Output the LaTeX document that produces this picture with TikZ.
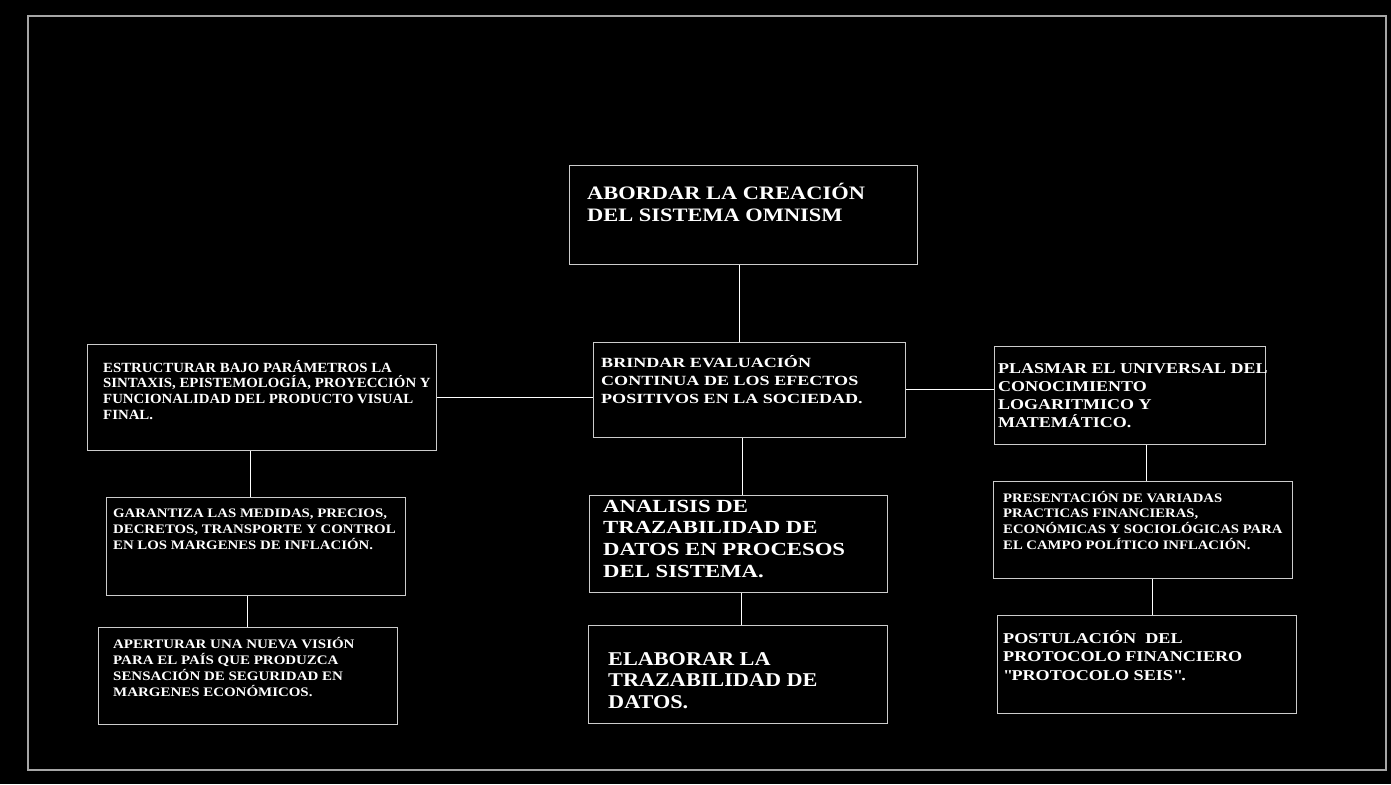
\documentclass[tikz,border=0pt]{standalone}
\usepackage{fontspec}
\setmainfont{Liberation Serif}
\usetikzlibrary{positioning}

\definecolor{boxgray}{gray}{0.8}
\definecolor{framegray}{gray}{0.65}

% wide bold face, #1 = stretch, #2 = size, #3 = line skip
\newcommand{\widebf}[3]{\bfseries\addfontfeatures{FakeStretch=#1}\fontsize{#2}{#3}\selectfont}

\tikzset{
  box/.style={draw=boxgray, line width=1pt, inner sep=0pt},
  txt/.style={anchor=base west, inner sep=0pt, text=white},
  link/.style={draw=white, line width=1pt},
}

\begin{document}
\begin{tikzpicture}[x=1pt,y=-1pt]
\fill[black] (0,0) rectangle (1391,784);
\useasboundingbox (0,0) rectangle (1391,784);
\draw[framegray, line width=1.5pt] (28,16) rectangle (1386,770);

% boxes
\node[box, minimum width=348pt, minimum height=99pt] (top) at (743,214.5){};
\node[box, minimum width=312pt, minimum height=95pt] (mid) at (749,389.5){};
\node[box, minimum width=349pt, minimum height=106pt] (estr) at (261.5,397){};
\node[box, minimum width=271pt, minimum height=98pt] (plas) at (1129.5,395){};
\node[box, minimum width=299pt, minimum height=98pt] (gar) at (255.5,546){};
\node[box, minimum width=299pt, minimum height=97pt] (apert) at (247.5,675.5){};
\node[box, minimum width=298pt, minimum height=97pt] (ana) at (738,543.5){};
\node[box, minimum width=299pt, minimum height=98pt] (elab) at (737.5,674){};
\node[box, minimum width=299pt, minimum height=97pt] (pres) at (1142.5,529.5){};
\node[box, minimum width=299pt, minimum height=98pt] (post) at (1146.5,664){};

% texts
\node[txt, font=\widebf{1.18}{19}{22}] (topT) at (587,199)
  {\parbox[t]{330pt}{ABORDAR LA CREACIÓN\\DEL SISTEMA OMNISM}};
\node[txt, font=\widebf{1.29}{14}{18}] (midT) at (601,367)
  {\parbox[t]{300pt}{BRINDAR EVALUACIÓN\\CONTINUA DE LOS EFECTOS\\POSITIVOS EN LA SOCIEDAD.}};
\node[txt, font=\widebf{1.06}{14}{15.7}] (estrT) at (103,372)
  {\parbox[t]{340pt}{ESTRUCTURAR BAJO PARÁMETROS LA\\SINTAXIS, EPISTEMOLOGÍA, PROYECCIÓN Y\\FUNCIONALIDAD DEL PRODUCTO VISUAL\\FINAL.}};
\node[txt, font=\widebf{1.2}{15}{18.3}] (plasT) at (998,373)
  {\parbox[t]{290pt}{PLASMAR EL UNIVERSAL DEL\\CONOCIMIENTO\\LOGARITMICO Y\\MATEMÁTICO.}};
\node[txt, font=\widebf{1.14}{13}{16}] (garT) at (113,517)
  {\parbox[t]{300pt}{GARANTIZA LAS MEDIDAS, PRECIOS,\\DECRETOS, TRANSPORTE Y CONTROL\\EN LOS MARGENES DE INFLACIÓN.}};
\node[txt, font=\widebf{1.15}{13}{16.3}] (apertT) at (113,648)
  {\parbox[t]{290pt}{APERTURAR UNA NUEVA VISIÓN\\PARA EL PAÍS QUE PRODUZCA\\SENSACIÓN DE SEGURIDAD EN\\MARGENES ECONÓMICOS.}};
\node[txt, font=\widebf{1.23}{18.5}{21.7}] (anaT) at (603,512)
  {\parbox[t]{290pt}{ANALISIS DE\\TRAZABILIDAD DE\\DATOS EN PROCESOS\\DEL SISTEMA.}};
\node[txt, font=\widebf{1.14}{19.5}{21.5}] (elabT) at (608,665)
  {\parbox[t]{280pt}{ELABORAR LA\\TRAZABILIDAD DE\\DATOS.}};
\node[txt, font=\widebf{1.13}{13}{15.7}] (presT) at (1003,502)
  {\parbox[t]{290pt}{PRESENTACIÓN DE VARIADAS\\PRACTICAS FINANCIERAS,\\ECONÓMICAS Y SOCIOLÓGICAS PARA\\EL CAMPO POLÍTICO INFLACIÓN.}};
\node[txt, font=\widebf{1.21}{15}{18.5}] (postT) at (1003,643)
  {\parbox[t]{290pt}{POSTULACIÓN\ \ DEL\\PROTOCOLO FINANCIERO\\\textquotedbl PROTOCOLO SEIS\textquotedbl.}};

% connectors
\path[link]
([xshift=-4pt]top.south) edge ([xshift=-4pt]top.south |- mid.north)
(estr.east) edge (estr.east -| mid.west)
(mid.east) edge (mid.east -| plas.west)
([xshift=-5pt]gar.north) edge ([xshift=-5pt]gar.north |- estr.south)
(apert.north) edge (apert.north |- gar.south)
([xshift=4pt]ana.north) edge ([xshift=4pt]ana.north |- mid.south)
([xshift=4pt]elab.north) edge ([xshift=4pt]elab.north |- ana.south)
([xshift=4pt]pres.north) edge ([xshift=4pt]pres.north |- plas.south)
([xshift=6pt]post.north) edge ([xshift=6pt]post.north |- pres.south);
\end{tikzpicture}
\end{document}
